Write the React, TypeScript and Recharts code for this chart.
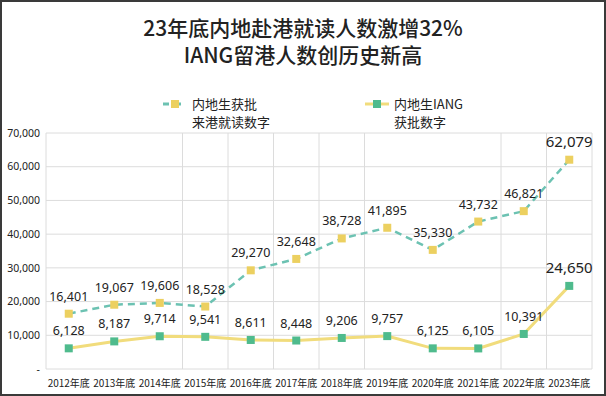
import { LineChart, Line, XAxis, YAxis, CartesianGrid, LabelList } from 'recharts';

const years = ['2012年底', '2013年底', '2014年底', '2015年底', '2016年底', '2017年底', '2018年底', '2019年底', '2020年底', '2021年底', '2022年底', '2023年底'];
const approvedStudy = [16401, 19067, 19606, 18528, 29270, 32648, 38728, 41895, 35330, 43732, 46821, 62079];
const approvedIang = [6128, 8187, 9714, 9541, 8611, 8448, 9206, 9757, 6125, 6105, 10391, 24650];
const yTicks = [0, 10000, 20000, 30000, 40000, 50000, 60000, 70000];
// band edges that carry a vertical grid line in the original
const gridEdges = [0, 3, 4, 5, 6, 7, 10, 11, 12];

const TEAL = '#6cc2b2';
const YELLOW = '#ecd060';
const LINE_YELLOW = '#f1dc7c';
const GREEN = '#4fbb8d';

const PLOT_W = 546;
const HALF_BAND = PLOT_W / years.length / 2;

const data = years.map((year, i) => ({ year, study: approvedStudy[i], iang: approvedIang[i] }));

const fmt = (v: number) => (v === 0 ? '-' : v.toLocaleString('en-US'));

const SquareDot = (color: string) => (props: any) => {
  const { cx, cy, index } = props;
  if (cx == null || cy == null) return null;
  return <rect key={index} x={cx - 4} y={cy - 4} width={8} height={8} fill={color} />;
};

const makeLabel = (last: number) => (props: any) => {
  const { x, y, value, index } = props;
  const isLast = index === last;
  return (
    <text
      x={x}
      y={y - 13}
      textAnchor="middle"
      fontSize={isLast ? 15 : 12.5}
      fill="#222"
      fontFamily="'Noto Sans', sans-serif"
    >
      {fmt(value)}
    </text>
  );
};

const LegendMark = ({ line, dot, dashed }: { line: string; dot: string; dashed?: boolean }) => (
  <svg width={24} height={10} style={{ marginRight: 5, marginTop: 4 }}>
    <line x1={0} y1={5} x2={24} y2={5} stroke={line} strokeWidth={3} strokeDasharray={dashed ? '6 6' : undefined} />
    <rect x={8} y={1} width={8} height={8} fill={dot} />
  </svg>
);

const App = () => {
  return (
    <div style={{ position: 'fixed', left: 0, top: 0, width: 606, height: 396, background: '#fff', border: '2px solid #3a3a3a', boxSizing: 'border-box', fontFamily: "'Noto Sans CJK SC', sans-serif" }}>
      <div style={{ position: 'absolute', left: 0, top: 12, width: 602, textAlign: 'center', fontSize: 21, lineHeight: '27px', color: '#222', fontWeight: 500 }}>
        <div>23年底内地赴港就读人数激增32%</div>
        <div>IANG留港人数创历史新高</div>
      </div>
      <div style={{ position: 'absolute', left: 161, top: 93, display: 'flex', fontSize: 13, lineHeight: '18px', color: '#222' }}>
        <LegendMark line={TEAL} dot={YELLOW} dashed />
        <div>内地生获批<br />来港就读数字</div>
      </div>
      <div style={{ position: 'absolute', left: 363, top: 93, display: 'flex', fontSize: 13, lineHeight: '18px', color: '#222' }}>
        <LegendMark line={LINE_YELLOW} dot={GREEN} />
        <div>内地生IANG<br />获批数字</div>
      </div>
      <div style={{ position: 'absolute', left: -2, top: -2 }}>
        <LineChart width={606} height={396} data={data} margin={{ top: 133, right: 14, bottom: 7, left: 6 }}>
          <CartesianGrid
            stroke="#dcdcdc"
            verticalCoordinatesGenerator={({ offset }: any) =>
              gridEdges.map((e) => offset.left + (e * offset.width) / years.length)
            }
          />
          <XAxis
            dataKey="year"
            axisLine={false}
            tickLine={false}
            tickSize={0}
            tickMargin={11}
            height={20}
            interval={0}
            padding={{ left: HALF_BAND, right: HALF_BAND }}
            tick={{ fontSize: 10, fill: '#222', fontFamily: "'Noto Sans CJK SC', sans-serif" }}
          />
          <YAxis
            domain={[0, 70000]}
            ticks={yTicks}
            tickFormatter={fmt}
            axisLine={false}
            tickLine={false}
            tickSize={0}
            tickMargin={6}
            width={40}
            tick={{ fontSize: 10.5, fill: '#222', fontFamily: "'Noto Sans', sans-serif" }}
          />
          <Line
            dataKey="study"
            stroke={TEAL}
            strokeWidth={2.5}
            strokeDasharray="7 5"
            dot={SquareDot(YELLOW)}
            activeDot={false}
            isAnimationActive={false}
          >
            <LabelList dataKey="study" content={makeLabel(approvedStudy.length - 1)} />
          </Line>
          <Line
            dataKey="iang"
            stroke={LINE_YELLOW}
            strokeWidth={3}
            dot={SquareDot(GREEN)}
            activeDot={false}
            isAnimationActive={false}
          >
            <LabelList dataKey="iang" content={makeLabel(approvedIang.length - 1)} />
          </Line>
        </LineChart>
      </div>
    </div>
  );
};

export default App;
